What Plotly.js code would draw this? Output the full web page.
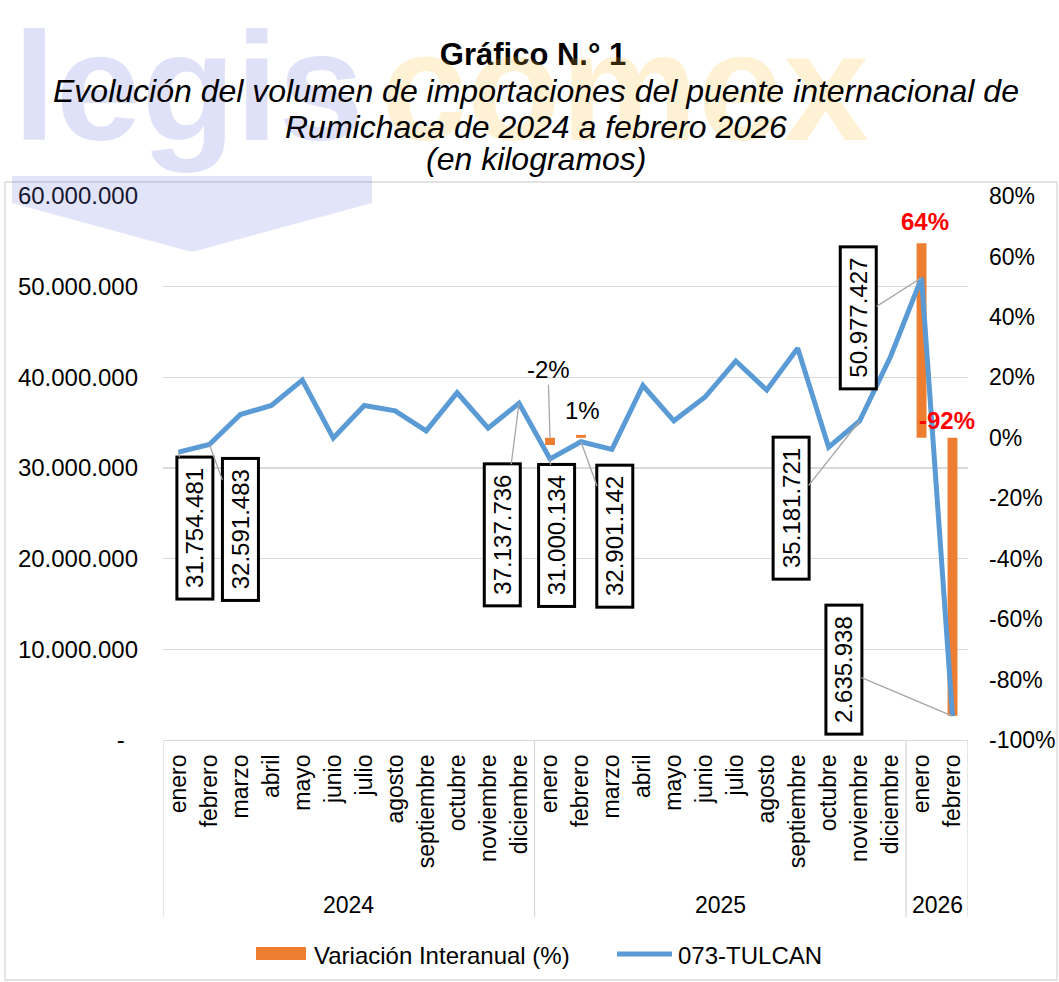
<!DOCTYPE html>
<html>
<head>
<meta charset="utf-8">
<script src="https://cdn.plot.ly/plotly-3.0.1.min.js"></script>
<style>html,body{margin:0;padding:0;background:#fff;}#chart{width:1059px;height:982px;}</style>
</head>
<body>
<div id="chart"></div>
<script>
// ---------- DATA ----------
var months = ['enero','febrero','marzo','abril','mayo','junio','julio','agosto','septiembre','octubre','noviembre','diciembre',
              'enero','febrero','marzo','abril','mayo','junio','julio','agosto','septiembre','octubre','noviembre','diciembre',
              'enero','febrero'];
var years = ['2024','2024','2024','2024','2024','2024','2024','2024','2024','2024','2024','2024',
             '2025','2025','2025','2025','2025','2025','2025','2025','2025','2025','2025','2025',
             '2026','2026'];
var tulcan = [31754481, 32591483, 35900000, 36900000, 39700000, 33300000, 36900000, 36300000, 34100000, 38300000, 34400000, 37137736,
              31000134, 32901142, 32050000, 39100000, 35200000, 37800000, 41800000, 38600000, 43200000, 32300000, 35181721, 42300000,
              50977427, 2635938];
var variacion = [null,null,null,null,null,null,null,null,null,null,null,null,
                 -0.024, 0.0095, null,null,null,null,null,null,null,null,null,null,
                 0.644, -0.92];
var labeledPoints = [0, 1, 11, 12, 13, 22, 24, 25];
var kgTicks = [0, 10000000, 20000000, 30000000, 40000000, 50000000, 60000000];
var pctTicks = [-1, -0.8, -0.6, -0.4, -0.2, 0, 0.2, 0.4, 0.6, 0.8];
var seriesNames = ['Variación Interanual (%)', '073-TULCAN'];
var titleText = 'Gráfico N.° 1';
var subtitleLines = ['Evolución del volumen de importaciones del puente internacional de',
                     'Rumichaca de 2024 a febrero 2026', '(en kilogramos)'];
var watermark = ['legis', 'comex'];

// ---------- HELPERS ----------
var L = 163, R = 968, T = 196, B = 740;
function px(x){ return (x - L) / (R - L); }
function py(y){ return (B - y) / (B - T); }
function fmtKg(v){ return String(v).replace(/\B(?=(\d{3})+(?!\d))/g, '.'); }
function fmtPct(v){ return Math.round(v * 100) + '%'; }
var idx = months.map(function(_, i){ return i; });
var FONT = 'Liberation Sans, Arial, sans-serif';
var NB = '\u00a0';
var ORANGE = '#ED7D31', BLUE = '#5B9BD5', GRID = '#D9D9D9';

// ---------- TRACES ----------
var barTrace = {
  type: 'bar', x: idx, y: variacion, yaxis: 'y', name: seriesNames[0],
  width: 0.32, marker: {color: ORANGE}, hoverinfo: 'skip', showlegend: false
};
var lineTrace = {
  type: 'scatter', mode: 'lines', x: idx, y: tulcan, yaxis: 'y2', name: seriesNames[1],
  line: {color: BLUE, width: 5}, hoverinfo: 'skip', showlegend: false
};

// ---------- ANNOTATIONS ----------
var annotations = [];
var shapes = [];
// watermark
annotations.push({
  xref: 'paper', yref: 'paper', x: px(12), y: py(87), xanchor: 'left', yanchor: 'middle', borderpad: 0,
  showarrow: false, text: watermark[0],
  font: {family: FONT, size: 154, color: 'rgba(110,120,225,0.22)', weight: 'bold'}
});
annotations.push({
  xref: 'paper', yref: 'paper', x: px(380), y: py(87), xanchor: 'left', yanchor: 'middle', borderpad: 0,
  showarrow: false, text: watermark[1],
  font: {family: FONT, size: 154, color: 'rgba(255,190,40,0.2)', weight: 'bold'}
});
shapes.push({type: 'path', xref: 'paper', yref: 'paper',
  path: 'M' + px(12) + ',' + py(176) + ' L' + px(372) + ',' + py(176) + ' L' + px(372) + ',' + py(203) +
        ' L' + px(192) + ',' + py(252) + ' L' + px(12) + ',' + py(203) + ' Z',
  fillcolor: 'rgba(110,120,225,0.2)', line: {width: 0}, layer: 'above'});
// subtitle lines
var subCenters = [91, 127, 159];
subtitleLines.forEach(function(t, i){
  annotations.push({
    xref: 'paper', yref: 'paper', x: px(536), y: py(subCenters[i]), xanchor: 'center', yanchor: 'middle',
    showarrow: false, text: '<i>' + t + '</i>',
    font: {family: FONT, size: 32, color: '#000'}
  });
});
// value labels (kg)
var kgOffsets = {0: [16, 76], 1: [31, 85], 11: [-17, 132], 12: [7, 77], 13: [34, 94], 22: [-69, 87], 24: [-63, 40], 25: [-109, -46]};
labeledPoints.forEach(function(i){
  annotations.push({
    xref: 'x', yref: 'y2', x: i, y: tulcan[i],
    ax: kgOffsets[i][0], ay: kgOffsets[i][1],
    text: NB + fmtKg(tulcan[i]) + NB, textangle: -90,
    font: {family: FONT, size: 24, color: '#000'},
    bgcolor: '#fff', bordercolor: '#000', borderwidth: 3, borderpad: 3,
    showarrow: true, arrowhead: 0, arrowwidth: 1.3, arrowcolor: '#A6A6A6', standoff: 0
  });
});
// percent labels
var pctStyle = {
  12: {y0: true, ax: -2, ay: -68, color: '#000', bold: false, line: true},
  13: {y0: false, ax: 2, ay: -24, color: '#000', bold: false, line: false},
  24: {y0: false, ax: 3, ay: -22, color: '#FF0000', bold: true, line: false},
  25: {y0: true, ax: -6, ay: -17, color: '#FF0000', bold: true, line: false}
};
variacion.forEach(function(v, i){
  if (v === null) return;
  var s = pctStyle[i];
  annotations.push({
    xref: 'x', yref: 'y', x: i, y: s.y0 ? 0 : v, ax: s.ax, ay: s.ay,
    text: s.bold ? '<b>' + fmtPct(v) + '</b>' : fmtPct(v),
    font: {family: FONT, size: 24, color: s.color},
    showarrow: true, arrowhead: 0, arrowwidth: 1.3,
    arrowcolor: s.line ? '#A6A6A6' : 'rgba(0,0,0,0)', standoff: 0
  });
});
// year labels + dividers
var groups = [];
years.forEach(function(y, i){
  if (i === 0 || y !== years[i-1]) groups.push({year: y, first: i, last: i});
  else groups[groups.length-1].last = i;
});
groups.forEach(function(g, k){
  annotations.push({
    xref: 'x', yref: 'paper', x: (g.first + g.last) / 2, y: py(905), yanchor: 'middle',
    showarrow: false, text: g.year, font: {family: FONT, size: 23, color: '#000'}
  });
  shapes.push({type: 'line', xref: 'x', yref: 'paper', x0: g.first - 0.5, x1: g.first - 0.5, y0: 0, y1: py(917),
               line: {color: GRID, width: 1.3}});
  if (k === groups.length - 1)
    shapes.push({type: 'line', xref: 'x', yref: 'paper', x0: g.last + 0.5, x1: g.last + 0.5, y0: 0, y1: py(917),
                 line: {color: GRID, width: 1.3}});
});
// chart border
shapes.push({type: 'rect', xref: 'paper', yref: 'paper', x0: px(5), x1: px(1057), y0: py(182), y1: py(980),
             line: {color: GRID, width: 1.3}, fillcolor: 'rgba(0,0,0,0)', layer: 'below'});
// legend (drawn)
shapes.push({type: 'rect', xref: 'paper', yref: 'paper', x0: px(256), x1: px(306), y0: py(947), y1: py(960),
             fillcolor: ORANGE, line: {width: 0}});
shapes.push({type: 'line', xref: 'paper', yref: 'paper', x0: px(617), x1: px(672), y0: py(954), y1: py(954),
             line: {color: BLUE, width: 5}});
annotations.push({xref: 'paper', yref: 'paper', x: px(312), y: py(955), xanchor: 'left', yanchor: 'middle',
                  showarrow: false, text: seriesNames[0], font: {family: FONT, size: 24, color: '#000'}});
annotations.push({xref: 'paper', yref: 'paper', x: px(676), y: py(955), xanchor: 'left', yanchor: 'middle',
                  showarrow: false, text: seriesNames[1], font: {family: FONT, size: 24, color: '#000'}});

var layout = {
  width: 1059, height: 982,
  margin: {l: L, r: 1059 - R, t: T, b: 982 - B, pad: 0, autoexpand: false},
  paper_bgcolor: '#fff', plot_bgcolor: 'rgba(0,0,0,0)',
  font: {family: FONT, color: '#000'},
  separators: ',.',
  hovermode: false,
  showlegend: false,
  title: {text: '<b>' + titleText + '</b>', xref: 'container', yref: 'container', x: 533/1059, xanchor: 'center',
          y: 1 - 54/982, yanchor: 'middle', font: {family: FONT, size: 31, color: '#000'}},
  xaxis: {
    range: [-0.5, months.length - 0.5], tickvals: idx, ticktext: months, tickangle: -90,
    tickfont: {family: FONT, size: 23, color: '#000'}, ticks: '', ticklabelstandoff: 4,
    showgrid: false, zeroline: false, showline: true, linecolor: GRID, linewidth: 1.3, fixedrange: true
  },
  yaxis: {
    range: [-1, 0.8], side: 'right', tickvals: pctTicks, ticktext: pctTicks.map(fmtPct),
    tickfont: {family: FONT, size: 23, color: '#000'}, ticks: '', ticklabelstandoff: 20,
    showgrid: false, zeroline: false, showline: false, fixedrange: true
  },
  yaxis2: {
    range: [0, 60000000], side: 'left', overlaying: 'y', tickvals: kgTicks,
    ticktext: kgTicks.map(function(v){ return v === 0 ? '-' + NB + NB : fmtKg(v); }),
    tickfont: {family: FONT, size: 24, color: '#000'}, ticks: '', ticklabelstandoff: 24,
    showgrid: true, gridcolor: GRID, gridwidth: 1.3, zeroline: false, showline: false, fixedrange: true
  },
  annotations: annotations,
  shapes: shapes
};

Plotly.newPlot('chart', [barTrace, lineTrace], layout, {displayModeBar: false, staticPlot: true});
</script>
</body>
</html>
